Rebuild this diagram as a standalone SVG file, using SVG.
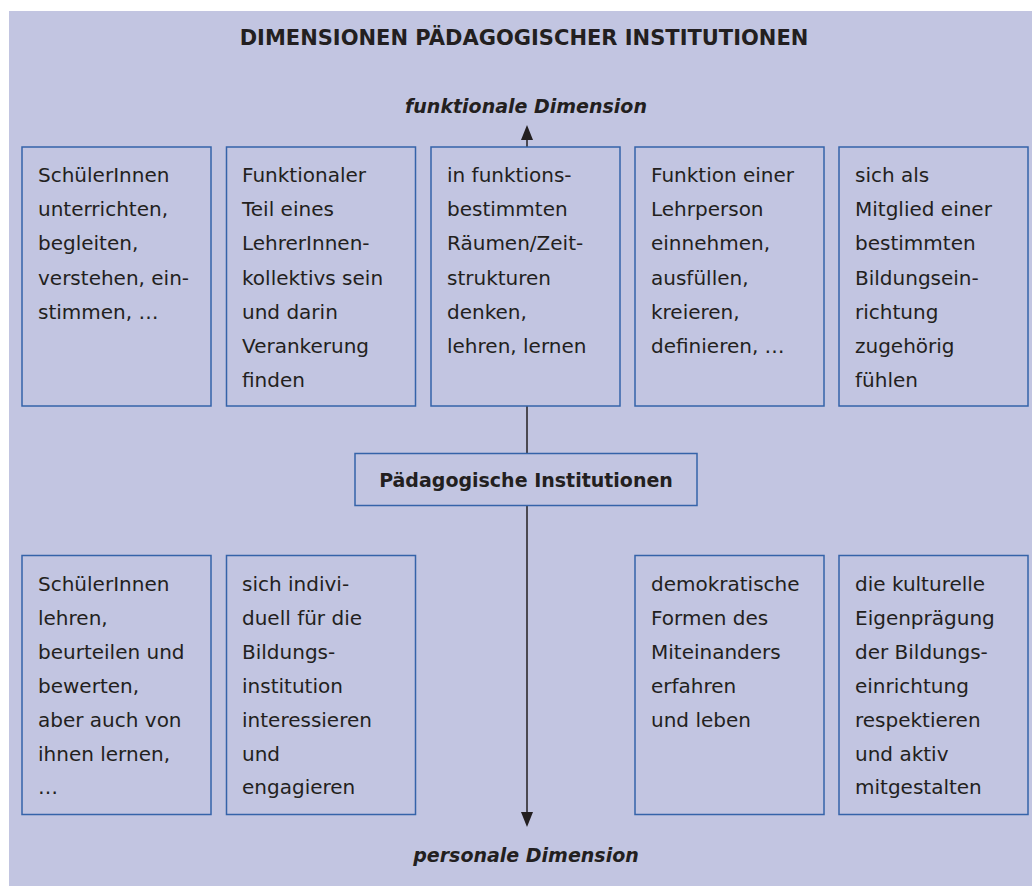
<svg xmlns="http://www.w3.org/2000/svg" width="1032" height="886" viewBox="0 0 1032 886">
<style>
.bg{fill:#C2C5E1}
.box{fill:none;stroke:#3563A9;stroke-width:1.5}
.t{font-family:"DejaVu Sans",sans-serif;font-size:20px;fill:#231F20}
.title{font-family:"DejaVu Sans",sans-serif;font-size:21px;font-weight:bold;fill:#231F20}
.dim{font-family:"DejaVu Sans",sans-serif;font-size:19px;font-weight:bold;font-style:italic;fill:#231F20}
.center{font-family:"DejaVu Sans",sans-serif;font-size:19px;font-weight:bold;fill:#231F20}
.ln{stroke:#231F20;stroke-width:1.5;fill:none}
</style>
<defs>
<marker id="ah" viewBox="0 0 15 12" refX="0" refY="6" markerWidth="15" markerHeight="12" markerUnits="userSpaceOnUse" orient="auto">
<path d="M0,0 L15,6 L0,12 Z" fill="#231F20"/>
</marker>
</defs>
<rect class="bg" x="9" y="11" width="1023" height="875"/>
<text class="title" x="524" y="45" text-anchor="middle">DIMENSIONEN PÄDAGOGISCHER INSTITUTIONEN</text>
<text class="dim" x="526" y="113" text-anchor="middle">funktionale Dimension</text>
<text class="dim" x="526" y="862" text-anchor="middle">personale Dimension</text>

<g id="connectors">
<line class="ln" x1="527" y1="147" x2="527" y2="140" marker-end="url(#ah)"/>
<line class="ln" x1="527" y1="406" x2="527" y2="453"/>
<line class="ln" x1="527" y1="506" x2="527" y2="812" marker-end="url(#ah)"/>
</g>

<g id="t1">
<rect class="box" x="22" y="147" width="189" height="259"/>
<text class="t" x="38" y="182"><tspan x="38">SchülerInnen</tspan><tspan x="38" dy="34.2">unterrichten,</tspan><tspan x="38" dy="34.2">begleiten,</tspan><tspan x="38" dy="34.2">verstehen, ein-</tspan><tspan x="38" dy="34.2">stimmen, …</tspan></text>
</g>
<g id="t2">
<rect class="box" x="226.5" y="147" width="189" height="259"/>
<text class="t" x="242" y="182"><tspan x="242">Funktionaler</tspan><tspan x="242" dy="34.2">Teil eines</tspan><tspan x="242" dy="34.2">LehrerInnen-</tspan><tspan x="242" dy="34.2">kollektivs sein</tspan><tspan x="242" dy="34.2">und darin</tspan><tspan x="242" dy="34.2">Verankerung</tspan><tspan x="242" dy="34.2">finden</tspan></text>
</g>
<g id="t3">
<rect class="box" x="431" y="147" width="189" height="259"/>
<text class="t" x="447" y="182"><tspan x="447">in funktions-</tspan><tspan x="447" dy="34.2">bestimmten</tspan><tspan x="447" dy="34.2">Räumen/Zeit-</tspan><tspan x="447" dy="34.2">strukturen</tspan><tspan x="447" dy="34.2">denken,</tspan><tspan x="447" dy="34.2">lehren, lernen</tspan></text>
</g>
<g id="t4">
<rect class="box" x="635" y="147" width="189" height="259"/>
<text class="t" x="651" y="182"><tspan x="651">Funktion einer</tspan><tspan x="651" dy="34.2">Lehrperson</tspan><tspan x="651" dy="34.2">einnehmen,</tspan><tspan x="651" dy="34.2">ausfüllen,</tspan><tspan x="651" dy="34.2">kreieren,</tspan><tspan x="651" dy="34.2">definieren, …</tspan></text>
</g>
<g id="t5">
<rect class="box" x="839" y="147" width="189" height="259"/>
<text class="t" x="855" y="182"><tspan x="855">sich als</tspan><tspan x="855" dy="34.2">Mitglied einer</tspan><tspan x="855" dy="34.2">bestimmten</tspan><tspan x="855" dy="34.2">Bildungsein-</tspan><tspan x="855" dy="34.2">richtung</tspan><tspan x="855" dy="34.2">zugehörig</tspan><tspan x="855" dy="34.2">fühlen</tspan></text>
</g>

<g id="center">
<rect class="box" x="355" y="453.5" width="342" height="52"/>
<text class="center" x="526" y="487" text-anchor="middle">Pädagogische Institutionen</text>
</g>

<g id="b1">
<rect class="box" x="22" y="555.5" width="189" height="259"/>
<text class="t" x="38" y="591"><tspan x="38">SchülerInnen</tspan><tspan x="38" dy="33.9">lehren,</tspan><tspan x="38" dy="33.9">beurteilen und</tspan><tspan x="38" dy="33.9">bewerten,</tspan><tspan x="38" dy="33.9">aber auch von</tspan><tspan x="38" dy="33.9">ihnen lernen,</tspan><tspan x="38" dy="33.9">…</tspan></text>
</g>
<g id="b2">
<rect class="box" x="226.5" y="555.5" width="189" height="259"/>
<text class="t" x="242" y="591"><tspan x="242">sich indivi-</tspan><tspan x="242" dy="33.9">duell für die</tspan><tspan x="242" dy="33.9">Bildungs-</tspan><tspan x="242" dy="33.9">institution</tspan><tspan x="242" dy="33.9">interessieren</tspan><tspan x="242" dy="33.9">und</tspan><tspan x="242" dy="33.9">engagieren</tspan></text>
</g>
<g id="b4">
<rect class="box" x="635" y="555.5" width="189" height="259"/>
<text class="t" x="651" y="591"><tspan x="651">demokratische</tspan><tspan x="651" dy="33.9">Formen des</tspan><tspan x="651" dy="33.9">Miteinanders</tspan><tspan x="651" dy="33.9">erfahren</tspan><tspan x="651" dy="33.9">und leben</tspan></text>
</g>
<g id="b5">
<rect class="box" x="839" y="555.5" width="189" height="259"/>
<text class="t" x="855" y="591"><tspan x="855">die kulturelle</tspan><tspan x="855" dy="33.9">Eigenprägung</tspan><tspan x="855" dy="33.9">der Bildungs-</tspan><tspan x="855" dy="33.9">einrichtung</tspan><tspan x="855" dy="33.9">respektieren</tspan><tspan x="855" dy="33.9">und aktiv</tspan><tspan x="855" dy="33.9">mitgestalten</tspan></text>
</g>
</svg>
